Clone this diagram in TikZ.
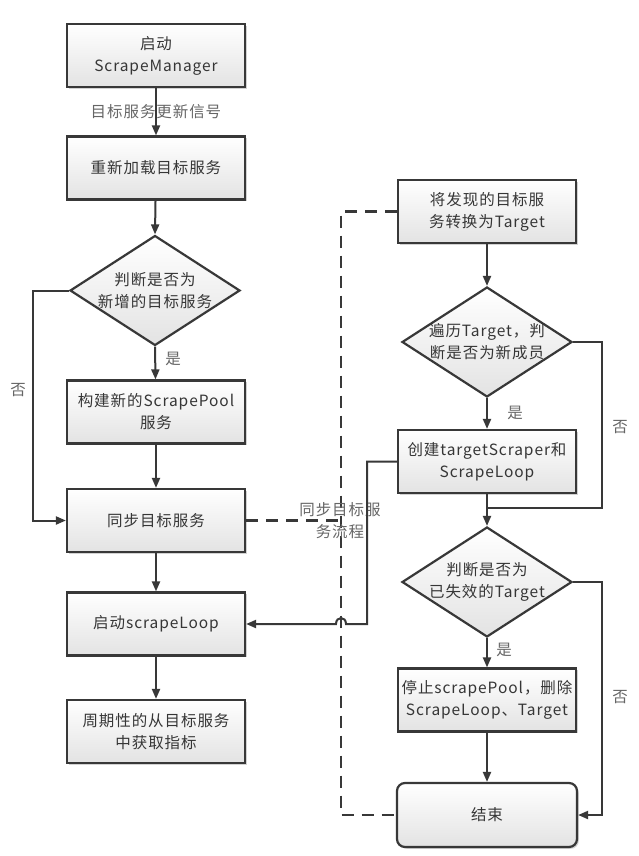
\documentclass[tikz,border=0pt]{standalone}
\usepackage{fontspec}
\setmainfont{Noto Sans CJK SC}[LetterSpace=6]
\usetikzlibrary{shapes.geometric,arrows.meta,shadows}
\definecolor{ln}{HTML}{383838}
\definecolor{tx}{HTML}{363636}
\definecolor{lbl}{HTML}{666666}
\newcommand\figfont{\fontsize{15.5}{22}\selectfont}
\begin{document}
\begin{tikzpicture}[x=1pt,y=-1pt,
  box/.style={draw=ln, line width=2.2pt, minimum width=178pt, minimum height=63pt,
    top color=white, bottom color=gray!22, align=center, font=\figfont, text=tx,
    drop shadow={shadow xshift=1.8pt, shadow yshift=-1.8pt, fill=gray!50, opacity=0.7}},
  endbox/.style={box, rounded corners=8pt, minimum width=180pt, minimum height=64pt},
  dia/.style={draw=ln, line width=2.2pt, shape=diamond, minimum width=170pt, minimum height=110pt,
    inner sep=0pt, top color=white, bottom color=gray!22},
  txt/.style={align=center, font=\figfont, text=tx, inner sep=0pt},
  lab/.style={font=\figfont, text=lbl, inner sep=1pt},
  arr/.style={draw=ln, line width=2pt, -{Triangle[length=10pt,width=8pt]}},
  ln/.style={draw=ln, line width=2pt},
  dsh/.style={draw=ln, line width=2.4pt, dash pattern=on 12pt off 8pt}]
\useasboundingbox (0,0) rectangle (638,856);
\fill[white] (0,0) rectangle (638,856);

% left column
\node[box] (b1) at (156,55.5) {启动\\ScrapeManager};
\node[box] (b2) at (156,168) {重新加载目标服务};
\node[dia] (d1) at (155,290.5) {};
\node[txt] (d1t) at (d1) {判断是否为\\新增的目标服务};
\node[box] (b3) at (156,412) {构建新的ScrapePool\\服务};
\node[box] (b4) at (156,520.5) {同步目标服务};
\node[box] (b5) at (156,624) {启动scrapeLoop};
\node[box] (b6) at (156,731.5) {周期性的从目标服务\\中获取指标};

% right column
\node[box] (r1) at (487,211.5) {将发现的目标服\\务转换为Target};
\node[dia] (r2) at (487,342) {};
\node[txt] (r2t) at (r2) {遍历Target，判\\断是否为新成员};
\node[box] (r3) at (487,461.5) {创建targetScraper和\\ScrapeLoop};
\node[dia] (r4) at (487,582) {};
\node[txt] (r4t) at (r4) {判断是否为\\已失效的Target};
\node[box] (r5) at (487,700) {停止scrapePool，删除\\ScrapeLoop、Target};
\node[endbox] (e) at (487,815) {结束};

% dashed sync flow
\coordinate (dt) at (341,211.5);
\coordinate (db) at (341,815);
\coordinate (dm) at (341,520.5);
\draw[dsh] (r1.west) -- (dt) -- (db) -- (e.west);
\draw[dsh] (b4.east) -- (dm);
\node[lab, align=center] (syn) at (340,521) {同步目标服\\务流程};

% left connectors
\draw[arr] (b1) -- (b2);
\node[lab] (sig) at (156,112) {目标服务更新信号};
\draw[arr] (b2) -- (d1.north);
\draw[arr] (d1.south) -- (b3);
\node[lab] (y1) at (173,359) {是};
\coordinate (l1) at (33,290.5);
\coordinate (l2) at (33,520.5);
\draw[arr] (d1.west) -- (l1) -- (l2) -- (b4.west);
\node[lab] (n1) at (18,390) {否};
\draw[arr] (b3) -- (b4);
\draw[arr] (b4) -- (b5);
\draw[arr] (b5) -- (b6);

% right connectors
\draw[arr] (r1) -- (r2.north);
\draw[arr] (r2.south) -- (r3);
\node[lab] (y2) at (515,413) {是};
\coordinate (rr1) at (602,342);
\coordinate (rr2) at (602,508);
\coordinate (rr3) at (487,508);
\draw[ln] (r2.east) -- (rr1) -- (rr2) -- (rr3);
\node[lab] (n2) at (620,427) {否};
\draw[arr] (r3) -- (r4.north);
\draw[arr] (r4.south) -- (r5);
\node[lab] (y3) at (504,650) {是};
\coordinate (rs1) at (602,582);
\coordinate (rs2) at (602,815);
\draw[arr] (r4.east) -- (rs1) -- (rs2) -- (e.east);
\node[lab] (n3) at (620,697) {否};
\draw[arr] (r5) -- (e);

% loop back to scrapeLoop, hopping over the dashed line
\coordinate (h1) at (367,461.5);
\coordinate (h2) at (367,624);
\coordinate (h3) at (346,624);
\coordinate (h4) at (336,624);
\draw[arr] (r3.west) -- (h1) -- (h2) -- (h3) .. controls (346,616) and (336,616) .. (h4) -- (b5.east);
\end{tikzpicture}
\end{document}
